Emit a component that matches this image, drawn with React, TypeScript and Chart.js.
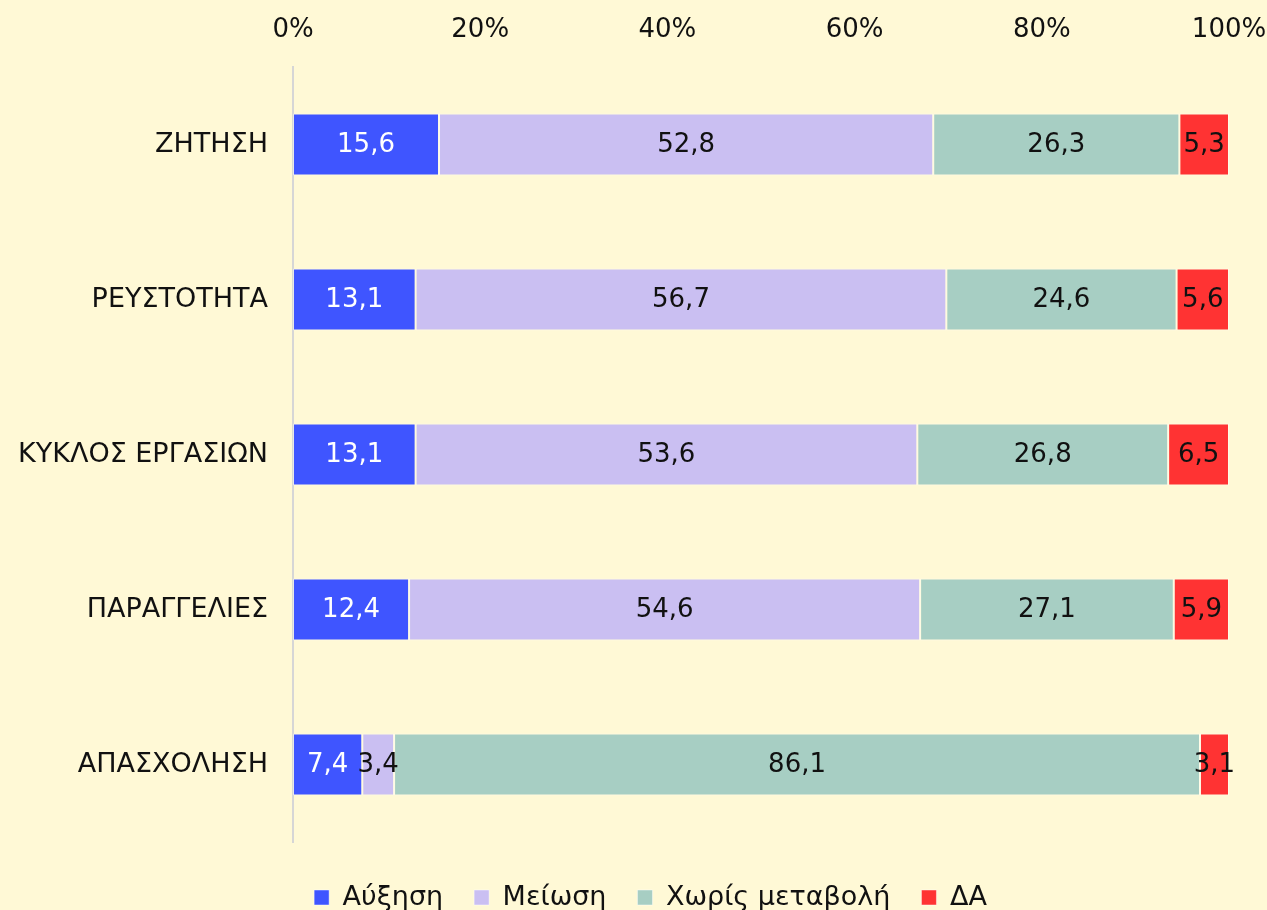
import React, { useEffect, useRef } from 'react';
import { Chart, registerables } from 'chart.js';

Chart.register(...registerables);

const categories = ['ΖΗΤΗΣΗ', 'ΡΕΥΣΤΟΤΗΤΑ', 'ΚΥΚΛΟΣ ΕΡΓΑΣΙΩΝ', 'ΠΑΡΑΓΓΕΛΙΕΣ', 'ΑΠΑΣΧΟΛΗΣΗ'];
const seriesNames = ['Αύξηση', 'Μείωση', 'Χωρίς μεταβολή', 'ΔΑ'];
const increase = [15.6, 13.1, 13.1, 12.4, 7.4];
const decrease = [52.8, 56.7, 53.6, 54.6, 3.4];
const noChange = [26.3, 24.6, 26.8, 27.1, 86.1];
const notAnswered = [5.3, 5.6, 6.5, 5.9, 3.1];
const xTickMin = 0;
const xTickMax = 100;
const xTickStep = 20;

const COLORS = ['#3F55FF', '#CABFF2', '#A7CEC3', '#FF3333'];
const LABEL_COLORS = ['#FFFFFF', '#111111', '#111111', '#111111'];
const BG = '#FFF9D6';
const FONT = 'DejaVu Sans';
const TEXT_SIZE = 27;
const NUM_SIZE = 26;

export default function App() {
  const canvasRef = useRef<HTMLCanvasElement | null>(null);

  useEffect(() => {
    document.body.style.margin = '0';
    document.body.style.background = BG;
    const canvas = canvasRef.current;
    if (!canvas) return;

    const bgPlugin = {
      id: 'bgFill',
      beforeDraw(chart: any) {
        const { ctx, width, height } = chart;
        ctx.save();
        ctx.fillStyle = BG;
        ctx.fillRect(0, 0, width, height);
        ctx.restore();
      },
    };

    const labelPlugin = {
      id: 'barLabels',
      afterDatasetsDraw(chart: any) {
        const { ctx } = chart;
        ctx.save();
        ctx.font = `${NUM_SIZE}px "${FONT}"`;
        ctx.textAlign = 'center';
        ctx.textBaseline = 'middle';
        chart.data.datasets.forEach((ds: any, di: number) => {
          const meta = chart.getDatasetMeta(di);
          meta.data.forEach((bar: any, i: number) => {
            const v = ds.data[i] as number;
            const cx = (bar.x + bar.base) / 2;
            ctx.fillStyle = LABEL_COLORS[di];
            ctx.fillText(v.toFixed(1).replace('.', ','), cx, bar.y + 1);
          });
        });
        ctx.restore();
      },
    };

    const legendSpacing = {
      id: 'legendSpacing',
      beforeInit(chart: any) {
        const legend = chart.legend;
        if (!legend) return;
        const origFit = legend.fit;
        legend.fit = function () {
          origFit.call(this);
          this.height = 68;
        };
        const origDraw = legend.draw;
        legend.draw = function () {
          const ctx = this.ctx;
          ctx.save();
          ctx.translate(36, 11);
          origDraw.call(this);
          ctx.restore();
        };
      },
    };

    const chart = new Chart(canvas, {
      type: 'bar',
      data: {
        labels: categories,
        datasets: [increase, decrease, noChange, notAnswered].map((d, i) => ({
          label: seriesNames[i],
          data: d,
          backgroundColor: COLORS[i],
          borderColor: 'rgba(255,255,255,0.45)',
          borderWidth: 1,
          borderSkipped: false,
          barPercentage: 0.4,
          categoryPercentage: 1,
        })),
      },
      options: {
        indexAxis: 'y',
        responsive: false,
        animation: false,
        layout: { padding: { top: 0, right: 38, left: 0, bottom: 0 } },
        font: { family: FONT, size: TEXT_SIZE },
        scales: {
          x: {
            position: 'top',
            stacked: true,
            min: xTickMin,
            max: xTickMax,
            grid: { display: false, drawTicks: false },
            border: { display: false },
            ticks: {
              stepSize: xTickStep,
              padding: 21,
              color: '#111111',
              maxRotation: 0,
              font: { family: FONT, size: NUM_SIZE },
              callback: (v: any) => `${v}%`,
            },
            afterFit(scale: any) {
              scale.height = 67;
              scale.paddingLeft = 0;
              scale.paddingRight = 0;
            },
          },
          y: {
            stacked: true,
            grid: { display: false, drawTicks: false },
            border: { display: true, color: '#D6D6D6', width: 2 },
            ticks: {
              padding: 25,
              color: '#111111',
              font: { family: FONT, size: TEXT_SIZE },
            },
            afterFit(scale: any) {
              scale.width = 293;
            },
          },
        },
        plugins: {
          legend: {
            position: 'bottom',
            labels: {
              boxWidth: 15,
              boxHeight: 15,
              padding: 31,
              color: '#111111',
              font: { family: FONT, size: TEXT_SIZE },
            },
          },
          tooltip: { enabled: false },
        },
      },
      plugins: [bgPlugin, labelPlugin, legendSpacing],
    });

    return () => chart.destroy();
  }, []);

  return (
    <div style={{ width: 1267, height: 910, background: BG }}>
      <canvas ref={canvasRef} width={1267} height={910} style={{ display: 'block' }} />
    </div>
  );
}
